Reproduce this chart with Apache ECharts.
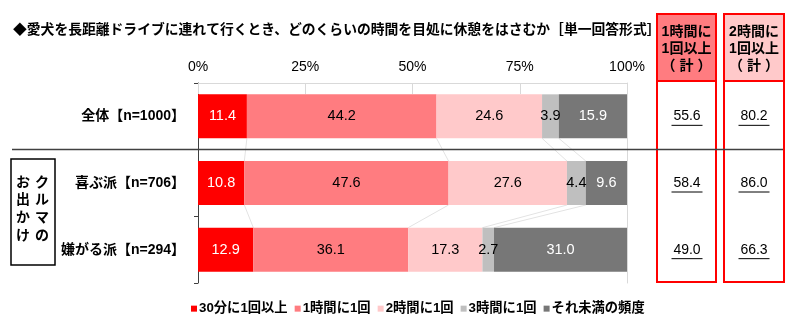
<!DOCTYPE html>
<html>
<head>
<meta charset="utf-8">
<script src="https://cdn.jsdelivr.net/npm/echarts@6/dist/echarts.min.js"></script>
<style>
  html, body { margin: 0; padding: 0; background: #fff; }
  #chart { width: 800px; height: 336px; }
</style>
</head>
<body>
<div id="chart"></div>
<script>
// ---- data ----
const titleText = '◆愛犬を長距離ドライブに連れて行くとき、どのくらいの時間を目処に休憩をはさむか［単一回答形式］';
const categories = ['全体【n=1000】', '喜ぶ派【n=706】', '嫌がる派【n=294】'];
const seriesNames = ['30分に1回以上', '1時間に1回', '2時間に1回', '3時間に1回', 'それ未満の頻度'];
const every30min = [11.4, 10.8, 12.9];
const everyHour = [44.2, 47.6, 36.1];
const every2h = [24.6, 27.6, 17.3];
const every3h = [3.9, 4.4, 2.7];
const lessOften = [15.9, 9.6, 31.0];
const hourlyOrMore = [55.6, 58.4, 49.0];
const twoHourlyOrMore = [80.2, 86.0, 66.3];
const xTickLabels = ['0%', '25%', '50%', '75%', '100%'];
const hourlyHeader = '1時間に\n1回以上\n（ 計 ）';
const twoHourlyHeader = '2時間に\n1回以上\n（ 計 ）';
const groupColRight = 'ク\nル\nマ\nの';
const groupColLeft = 'お\n出\nか\nけ';

// ---- styling ----
const FONT = '"Liberation Sans", "Noto Sans CJK JP", sans-serif';
const colors = ['#FF0000', '#FF7C80', '#FFC9CA', '#BFBFBF', '#777777'];
const labelColors = ['#ffffff', '#000000', '#000000', '#000000', '#ffffff'];
const seriesData = [every30min, everyHour, every2h, every3h, lessOften];
const BAR_RATIO = 0.66;

// cumulative boundaries after each segment (for connector lines)
const cumulative = [];
seriesData.reduce((acc, arr, k) => {
  const next = acc.map((v, i) => v + arr[i]);
  if (k < seriesData.length - 1) cumulative.push(next);
  return next;
}, categories.map(() => 0));

const chart = echarts.init(document.getElementById('chart'), null, { renderer: 'canvas' });

const barSeries = seriesNames.map((name, k) => ({
  name,
  type: 'bar',
  stack: 'total',
  barWidth: (BAR_RATIO * 100) + '%',
  itemStyle: { color: colors[k] },
  label: {
    show: true,
    position: 'inside',
    color: labelColors[k],
    fontFamily: FONT,
    fontSize: 14.5,
    formatter: p => p.value.toFixed(1)
  },
  emphasis: { disabled: true },
  data: seriesData[k],
  z: 3
}));

// faint connectors between segment boundaries of adjacent bars
const connectorSeries = {
  type: 'custom',
  name: 'connectors',
  silent: true,
  z: 1,
  data: categories.slice(0, -1).map((c, i) => [0, i]),
  renderItem: (params, api) => {
    const i = api.value(1);
    const band = api.size([0, 1])[1];
    const half = band * BAR_RATIO / 2;
    const children = cumulative.map(cum => {
      const p1 = api.coord([cum[i], i]);
      const p2 = api.coord([cum[i + 1], i + 1]);
      return {
        type: 'line',
        shape: { x1: p1[0], y1: p1[1] + half, x2: p2[0], y2: p2[1] - half },
        style: { stroke: '#e3e3e3', lineWidth: 1 }
      };
    });
    return { type: 'group', children };
  }
};

// underlined totals in the right-hand columns
function totalsSeries(name, values, cx) {
  return {
    type: 'custom',
    name,
    silent: true,
    clip: false,
    z: 5,
    data: values.map((v, i) => [0, i, v]),
    renderItem: (params, api) => {
      const y = api.coord([0, api.value(1)])[1];
      const txt = api.value(2).toFixed(1);
      return {
        type: 'group',
        children: [
          {
            type: 'text',
            x: cx, y: y,
            style: {
              text: txt, fontFamily: FONT, fontSize: 14, fill: '#000',
              align: 'center', verticalAlign: 'middle'
            }
          },
          {
            type: 'line',
            shape: { x1: cx - 15.5, y1: y + 9, x2: cx + 15.5, y2: y + 9 },
            style: { stroke: '#000', lineWidth: 1 }
          }
        ]
      };
    }
  };
}

const headerText = (text, x) => ({
  type: 'text', x, y: 49.5, z: 20,
  style: {
    text, fontFamily: FONT, fontSize: 14, fontWeight: 'bold', fill: '#000',
    align: 'center', verticalAlign: 'middle', lineHeight: 17
  }
});

const option = {
  animation: false,
  title: {
    text: titleText,
    left: 8, top: 18,
    textStyle: { fontFamily: FONT, fontSize: 13.8, fontWeight: 'bold', color: '#000' }
  },
  legend: {
    data: seriesNames,
    left: 186, top: 297,
    icon: 'rect',
    itemWidth: 6, itemHeight: 6, itemGap: 7,
    textStyle: { fontFamily: FONT, fontSize: 13.3, fontWeight: 'bold', color: '#000', padding: [0, 0, 0, -3] }
  },
  grid: { left: 198, top: 83, width: 429, height: 200, containLabel: false },
  xAxis: {
    type: 'value',
    position: 'top',
    min: 0, max: 100, interval: 25,
    axisLine: { show: true, lineStyle: { color: '#d9d9d9', width: 1 } },
    axisTick: { show: true, inside: true, length: 11, lineStyle: { color: '#d9d9d9' } },
    splitLine: { show: false },
    axisLabel: {
      margin: 9,
      fontFamily: FONT, fontSize: 14, color: '#000',
      formatter: v => xTickLabels[Math.round(v / 25)]
    }
  },
  yAxis: [
    {
      type: 'category',
      data: categories,
      inverse: true,
      axisLine: { show: true, lineStyle: { color: '#404040', width: 1 } },
      axisTick: { show: true, length: 4, lineStyle: { color: '#404040' } },
      axisLabel: {
        margin: 13,
        fontFamily: FONT, fontSize: 14, fontWeight: 'bold', color: '#000'
      }
    },
    {
      type: 'category',
      data: categories,
      inverse: true,
      position: 'right',
      axisLine: { show: true, lineStyle: { color: '#d9d9d9', width: 1 } },
      axisTick: { show: false },
      axisLabel: { show: false }
    }
  ],
  series: [
    ...barSeries,
    connectorSeries,
    totalsSeries('hourlyTotals', hourlyOrMore, 687),
    totalsSeries('twoHourlyTotals', twoHourlyOrMore, 754)
  ],
  graphic: [
    // right-hand total columns
    { type: 'rect', shape: { x: 657, y: 14, width: 59, height: 67 }, z: 10,
      style: { fill: '#FF7C80', stroke: '#FF0000', lineWidth: 2 } },
    { type: 'rect', shape: { x: 657, y: 81, width: 59, height: 201 }, z: 10,
      style: { fill: 'none', stroke: '#FF0000', lineWidth: 2 } },
    { type: 'rect', shape: { x: 724, y: 14, width: 60, height: 67 }, z: 10,
      style: { fill: '#FFC9CA', stroke: '#FF0000', lineWidth: 2 } },
    { type: 'rect', shape: { x: 724, y: 81, width: 60, height: 201 }, z: 10,
      style: { fill: 'none', stroke: '#FF0000', lineWidth: 2 } },
    headerText(hourlyHeader, 686.5),
    headerText(twoHourlyHeader, 754),
    // group separator
    { type: 'line', shape: { x1: 12, y1: 149.5, x2: 783, y2: 149.5 }, z: 30,
      style: { stroke: '#404040', lineWidth: 1.5 } },
    // group label box
    { type: 'rect', shape: { x: 11, y: 159, width: 44, height: 106 }, z: 10,
      style: { fill: '#fff', stroke: '#000', lineWidth: 1.5 } },
    { type: 'text', x: 42, y: 174, z: 11,
      style: { text: groupColRight, fontFamily: FONT, fontSize: 14, fontWeight: 'bold',
        fill: '#000', align: 'center', verticalAlign: 'top', lineHeight: 17.7 } },
    { type: 'text', x: 23, y: 174, z: 11,
      style: { text: groupColLeft, fontFamily: FONT, fontSize: 14, fontWeight: 'bold',
        fill: '#000', align: 'center', verticalAlign: 'top', lineHeight: 17.7 } }
  ]
};

chart.setOption(option);
</script>
</body>
</html>
